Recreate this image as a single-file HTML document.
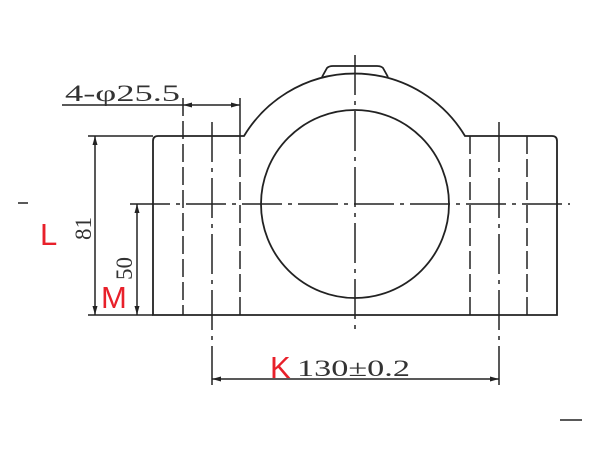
<!DOCTYPE html>
<html><head><style>
html,body{margin:0;padding:0;background:#fff;}
svg{display:block;}
.s{font-family:"Liberation Serif","Noto Serif CJK SC",serif;fill:#333;}
.r{font-family:"Liberation Sans",sans-serif;fill:#e8202a;font-size:31px;}
</style></head><body>
<svg width="600" height="450" viewBox="0 0 600 450" xmlns="http://www.w3.org/2000/svg">
<g fill="none" stroke="#222" stroke-width="1.8">
<path d="M153,315 L153,141 Q153,136 158,136 L244,136 A129,129 0 0 1 465,136 L552,136 Q557,136 557,141 L557,315 Z"/>
<path d="M322,77 L327,68 Q329,66 333,66 L377,66 Q381,66 383,68 L388,77"/>
<circle cx="355" cy="204" r="94"/>
</g>
<g stroke="#222" stroke-width="1.5" fill="none">
<line x1="183" y1="98" x2="183" y2="315" stroke-dasharray="18,5"/>
<line x1="240" y1="98" x2="240" y2="136"/>
<line x1="240" y1="136" x2="240" y2="315" stroke-dasharray="18,5"/>
<line x1="470" y1="136" x2="470" y2="315" stroke-dasharray="18,5"/>
<line x1="527" y1="136" x2="527" y2="315" stroke-dasharray="18,5"/>
<line x1="212" y1="122" x2="212" y2="385" stroke-dasharray="40,6,4,6"/>
<line x1="499" y1="122" x2="499" y2="385" stroke-dasharray="40,6,4,6"/>
<line x1="355" y1="55" x2="355" y2="330" stroke-dasharray="40,6,4,6"/>
<line x1="130" y1="204" x2="570" y2="204" stroke-dasharray="40,6,4,6"/>
<line x1="62" y1="105" x2="240" y2="105"/>
<line x1="88" y1="136" x2="153" y2="136"/>
<line x1="88" y1="315" x2="153" y2="315"/>
<line x1="95" y1="136" x2="95" y2="315"/>
<line x1="137" y1="204" x2="137" y2="315"/>
<line x1="212" y1="379" x2="499" y2="379"/>
<line x1="18" y1="203" x2="28" y2="203"/>
<line x1="560" y1="420" x2="582" y2="420"/>
</g>
<g fill="#222">
<path d="M183,105 l9,-2.5 v5 z"/>
<path d="M240,105 l-9,-2.5 v5 z"/>
<path d="M95,136 l-2.5,9 h5 z"/>
<path d="M95,315 l-2.5,-9 h5 z"/>
<path d="M137,204 l-2.5,9 h5 z"/>
<path d="M137,315 l-2.5,-9 h5 z"/>
<path d="M212,379 l9,-2.5 v5 z"/>
<path d="M499,379 l-9,-2.5 v5 z"/>
</g>
<text class="s" x="65" y="101" font-size="23" textLength="115" lengthAdjust="spacingAndGlyphs">4-φ25.5</text>
<text class="s" font-size="23" transform="translate(91,240) rotate(-90)">81</text>
<text class="s" font-size="23" transform="translate(132,280) rotate(-90)">50</text>
<text class="s" x="297" y="376" font-size="23" textLength="113" lengthAdjust="spacingAndGlyphs">130±0.2</text>
<text class="r" x="40" y="245">L</text>
<text class="r" x="101" y="308">M</text>
<text class="r" x="270" y="378">K</text>
</svg>
</body></html>
